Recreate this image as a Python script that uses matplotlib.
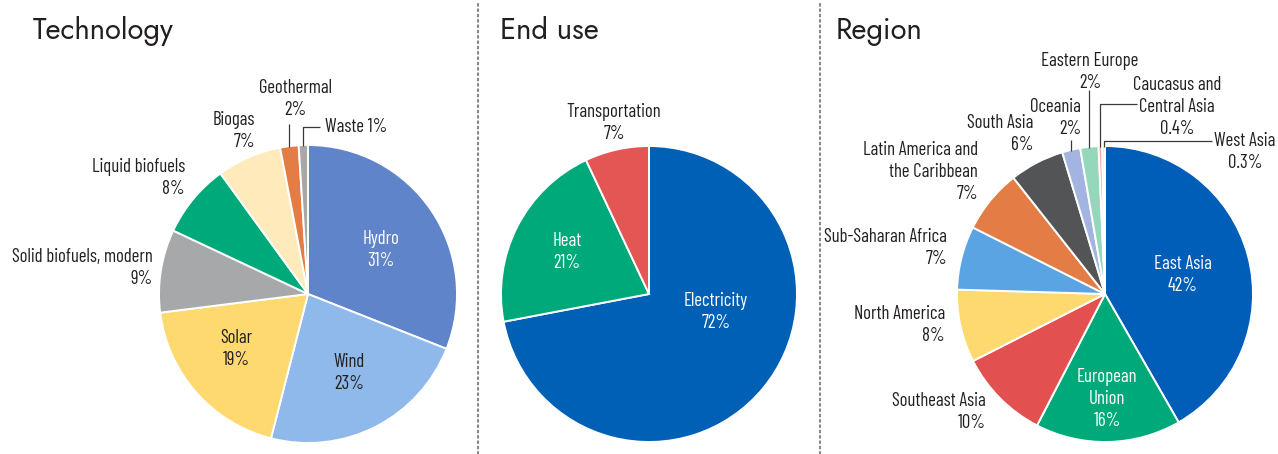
import matplotlib
matplotlib.use("Agg")
import matplotlib.pyplot as plt
from matplotlib.lines import Line2D
import numpy as np

# ---------------- data ----------------
tech_labels = ["Hydro", "Wind", "Solar", "Solid biofuels, modern", "Liquid biofuels",
               "Biogas", "Geothermal", "Waste"]
tech_values = [31, 23, 19, 9, 8, 7, 2, 1]

end_labels = ["Electricity", "Heat", "Transportation"]
end_values = [72, 21, 7]

region_labels = ["East Asia", "European\nUnion", "Southeast Asia", "North America",
                 "Sub-Saharan Africa", "Latin America and\nthe Caribbean", "South Asia",
                 "Oceania", "Eastern Europe", "Caucasus and\nCentral Asia", "West Asia"]
region_values = [42, 16, 10, 8, 7, 7, 6, 2, 2, 0.4, 0.3]

panel_titles = ["Technology", "End use", "Region"]

# ---------------- styles ----------------
tech_colors = ["#5f84c9", "#8fb9ea", "#fed96f", "#a7a8aa", "#00a97a",
               "#feeabb", "#e47d45", "#a7a8aa"]
end_colors = ["#0060b5", "#00a97a", "#e35654"]
region_colors = ["#005eb8", "#00a97a", "#e35050", "#fed96f", "#5ba4e3", "#e47d45",
                 "#525456", "#a3b4e0", "#94d7bb", "#f4a3a0", "#feeabb"]

W, H = 1278, 454
DARK = "#231f20"
LABEL_FONT = ["Barlow Condensed", "Roboto Condensed", "IBM Plex Sans Condensed", "DejaVu Sans"]
TITLE_FONT = ["Jost", "Futura", "Lato", "DejaVu Sans"]
LFS = 13.5

fig = plt.figure(figsize=(W / 100, H / 100), dpi=100)
fig.patch.set_facecolor("white")


def fx(px):
    return px / W


def fy(py):
    return 1 - py / H


def ftext(px, py, s, ha="center", va="center", color=DARK, **kw):
    fig.text(fx(px), fy(py), s, ha=ha, va=va, color=color, family=LABEL_FONT,
             fontsize=LFS, linespacing=1.28, multialignment=ha, **kw)


def fline(xs, ys):
    fig.add_artist(Line2D([fx(x) for x in xs], [fy(y) for y in ys],
                          color="#3a3a3a", lw=0.9, solid_capstyle="butt"))


def make_pie(cx, cy, r, values, colors):
    ax = fig.add_axes([fx(cx - r), fy(cy + r), 2 * r / W, 2 * r / H])
    ax.pie(values, colors=colors, startangle=90, counterclock=False,
           radius=1, wedgeprops=dict(edgecolor="white", linewidth=1.4))
    ax.set_xlim(-1, 1)
    ax.set_ylim(-1, 1)
    ax.set_axis_off()
    tot = float(sum(values))
    cum = np.cumsum([0] + list(values))[:-1]
    mids = [(c + v / 2) / tot * 360 for c, v in zip(cum, values)]
    return ax, mids


def edge_point(cx, cy, r, ang):
    a = np.deg2rad(ang)
    return cx + r * np.sin(a), cy - r * np.cos(a)


# ---------------- panel 1: Technology ----------------
c1 = (308, 294, 149)
_, m1 = make_pie(*c1, tech_values, tech_colors)
tech_pos = [(381, 250, "center", "white"), (349, 373, "center", DARK),
            (236, 349, "center", DARK), (153, 268, "right", DARK),
            (185, 178, "right", DARK), (255, 131, "right", DARK),
            (295, 99, "center", DARK), (325, 127, "left", DARK)]
for lab, v, (px, py, ha, col) in zip(tech_labels, tech_values, tech_pos):
    s = f"{lab} {v:g}%" if lab == "Waste" else f"{lab}\n{v:g}%"
    ftext(px, py, s, ha=ha, color=col)
gx, gy = edge_point(*c1, m1[6])
fline([gx, gx], [124, gy + 1])
wx, wy = edge_point(*c1, m1[7])
fline([wx, wx, 320], [wy + 1, 127, 127])

# ---------------- panel 2: End use ----------------
c2 = (649, 294, 148)
make_pie(*c2, end_values, end_colors)
end_pos = [(716, 312, "center", "white"), (567, 252, "center", "white"),
           (614, 123, "center", DARK)]
for lab, v, (px, py, ha, col) in zip(end_labels, end_values, end_pos):
    ftext(px, py, f"{lab}\n{v:g}%", ha=ha, color=col)

# ---------------- panel 3: Region ----------------
c3 = (1105, 294, 148)
_, m3 = make_pie(*c3, region_values, region_colors)
region_pos = [(1183, 275, "center", "white"), (1107, 399, "center", "white"),
              (986, 412, "right", DARK), (945, 325, "right", DARK),
              (947, 248, "right", DARK), (978, 172, "right", DARK),
              (1033, 134, "right", DARK), (1081, 118, "right", DARK),
              (1090, 72, "center", DARK), (1177, 107, "center", DARK),
              (1245, 152, "center", DARK)]
for lab, v, (px, py, ha, col) in zip(region_labels, region_values, region_pos):
    ftext(px, py, f"{lab}\n{v:g}%", ha=ha, color=col)
ox, oy = edge_point(*c3, m3[7])
fline([ox, ox], [140, oy + 1])
ex, ey = edge_point(*c3, m3[8])
fline([ex, ex], [90, ey + 1])
kx, ky = edge_point(*c3, m3[9])
fline([kx, kx, 1137], [ky + 1, 104, 104])
ax_, ay_ = edge_point(*c3, m3[10])
fline([ax_, ax_, 1212], [ay_ + 1, 141, 141])

# ---------------- titles & separators ----------------
for px, t in zip([33, 500, 836], panel_titles):
    fig.text(fx(px), fy(39), t, ha="left", va="baseline", family=TITLE_FONT,
             fontsize=21, color=DARK)

for sx in [478, 820]:
    fig.add_artist(Line2D([fx(sx), fx(sx)], [fy(4), fy(454)], color="#8c8c8c",
                          lw=1.6, linestyle=(0, (0.8, 1.6)), dash_capstyle="round"))

fig.savefig("out.png", dpi=100, facecolor="white")
